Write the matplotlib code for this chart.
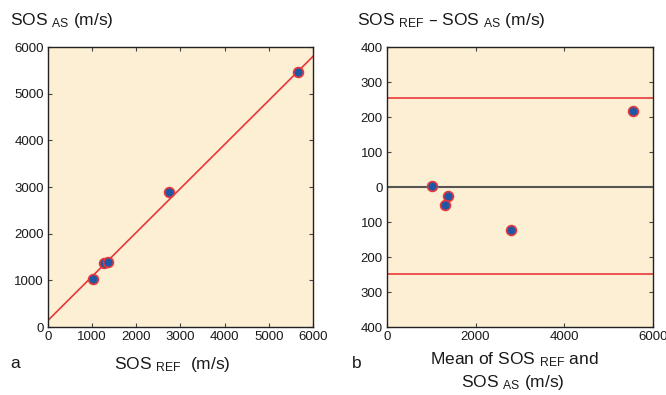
import matplotlib
matplotlib.use("Agg")
import matplotlib.pyplot as plt
import numpy as np

plt.rcParams['font.family'] = ['Liberation Sans', 'DejaVu Sans']
plt.rcParams['mathtext.default'] = 'regular'

# Panel a data
sos_ref = [1016, 1280, 1348, 2740, 5661]
sos_as = [1026, 1368, 1404, 2886, 5458]
fit_intercept = 142
fit_slope = 0.943

# Panel b data
mean_vals = [1018, 1379, 1319, 2812, 5563]
diff_vals = [4, -27, -52, -124, 217]
upper_loa = 255
lower_loa = -249

ticks_a = [0, 1000, 2000, 3000, 4000, 5000, 6000]
ticks_bx = [0, 2000, 4000, 6000]
ticks_by = [400, 300, 200, 100, 0, -100, -200, -300, -400]
ticklabels_by = ["400", "300", "200", "100", "0", "100", "200", "300", "400"]

bg = '#FDEFD3'
blue = '#1F57A5'
red = '#E8373A'
txt = '#1a1a1a'

fig = plt.figure(figsize=(6.66, 3.95), dpi=100)
ax1 = fig.add_axes([0.072, 0.172, 0.398, 0.709])
ax2 = fig.add_axes([0.581, 0.172, 0.399, 0.709])

for ax in (ax1, ax2):
    ax.set_facecolor(bg)
    ax.tick_params(direction='in', top=True, right=True, length=3, width=0.8,
                   labelsize=9.5, pad=3, color='#444444', labelcolor=txt)
    for s in ax.spines.values():
        s.set_linewidth(1.0)
        s.set_color('#222222')

# Panel a
xl = np.array([0, 6000])
ax1.plot(xl, fit_intercept + fit_slope * xl, color=red, lw=1.2, zorder=2)
ax1.scatter(sos_ref, sos_as, s=50, color=blue, edgecolor=red, linewidth=1.2, zorder=3)
ax1.set_xlim(0, 6000)
ax1.set_ylim(0, 6000)
ax1.set_xticks(ticks_a)
ax1.set_yticks(ticks_a)

# Panel b
ax2.axhline(0, color='#555555', lw=1.5, zorder=2)
ax2.axhline(upper_loa, color=red, lw=1.2, zorder=2)
ax2.axhline(lower_loa, color=red, lw=1.2, zorder=2)
ax2.scatter(mean_vals, diff_vals, s=50, color=blue, edgecolor=red, linewidth=1.2, zorder=3)
ax2.set_xlim(0, 6000)
ax2.set_ylim(-400, 400)
ax2.set_xticks(ticks_bx)
ax2.set_yticks(ticks_by)
ax2.set_yticklabels(ticklabels_by)

# Titles / labels
fs = 12.5
fig.text(10/666, 1 - 20/395, r"SOS $_{AS}$ (m/s)", fontsize=fs, va='center', ha='left', color=txt)
fig.text(357/666, 1 - 20/395, r"SOS $_{REF}$ – SOS $_{AS}$ (m/s)", fontsize=fs, va='center', ha='left', color=txt)
fig.text(172/666, 1 - 364/395, r"SOS $_{REF}$  (m/s)", fontsize=fs, va='center', ha='center', color=txt)
fig.text(10/666, 1 - 364/395, "a", fontsize=fs, va='center', ha='left', color=txt)
fig.text(352/666, 1 - 364/395, "b", fontsize=fs, va='center', ha='left', color=txt)
fig.text(514/666, 1 - 360/395, r"Mean of SOS $_{REF}$ and", fontsize=fs, va='center', ha='center', color=txt)
fig.text(513/666, 1 - 383/395, r"SOS $_{AS}$ (m/s)", fontsize=fs, va='center', ha='center', color=txt)

fig.savefig("out.png", dpi=100)
